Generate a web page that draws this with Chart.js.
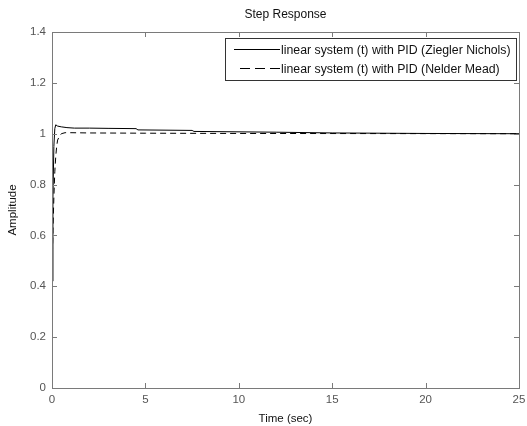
<!DOCTYPE html>
<html><head><meta charset="utf-8">
<script src="https://cdn.jsdelivr.net/npm/chart.js@4"></script>
<style>html,body{margin:0;padding:0;background:#fff}#wrap{width:527px;height:426px}</style>
</head><body><div id="wrap"><canvas id="c" width="527" height="426"></canvas></div>
<script>
const titleText = "Step Response";
const xLabel = "Time (sec)";
const yLabel = "Amplitude";
const seriesNames = ["linear system (t) with PID (Ziegler Nichols)", "linear system (t) with PID (Nelder Mead)"];
const tZN = [0, 0.05, 0.1, 0.15, 0.2, 0.3, 0.5, 0.8, 1.2, 2, 3, 4.5, 4.6, 7.5, 7.6, 12, 15, 20, 25];
const yZN = [0.42, 0.75, 0.95, 1.02, 1.035, 1.03, 1.027, 1.024, 1.022, 1.022, 1.021, 1.02, 1.015, 1.013, 1.009, 1.006, 1.003, 1.001, 1.0];
const tNM = [0, 0.05, 0.1, 0.15, 0.2, 0.25, 0.3, 0.4, 0.5, 0.7, 1, 2, 5, 10, 25];
const yNM = [0.45, 0.62, 0.75, 0.85, 0.91, 0.95, 0.975, 0.99, 1.0, 1.004, 1.004, 1.003, 1.002, 1.001, 1.0];
const xTicks = [0, 5, 10, 15, 20, 25];
const yTicks = [0, 0.2, 0.4, 0.6, 0.8, 1, 1.2, 1.4];

const axisColor = '#7a7a7a';
const textColor = '#555';
const FONT = '"Liberation Sans", Arial, sans-serif';

const frame = {
  id: 'frame',
  afterDatasetsDraw(chart) {
    const {ctx, chartArea: a, scales} = chart;
    ctx.save();
    ctx.font = '12px ' + FONT; ctx.fillStyle = '#111';
    ctx.textAlign = 'center'; ctx.textBaseline = 'middle';
    ctx.fillText(titleText, (a.left + a.right) / 2, 15);
    ctx.strokeStyle = axisColor; ctx.lineWidth = 1;
    ctx.strokeRect(a.left + 0.5, a.top + 0.5, a.right - a.left, a.bottom - a.top);
    ctx.beginPath();
    xTicks.forEach(v => { const x = Math.round(scales.x.getPixelForValue(v)) + 0.5;
      ctx.moveTo(x, a.bottom); ctx.lineTo(x, a.bottom - 5);
      ctx.moveTo(x, a.top); ctx.lineTo(x, a.top + 5); });
    yTicks.forEach(v => { const y = Math.round(scales.y.getPixelForValue(v)) + 0.5;
      ctx.moveTo(a.left, y); ctx.lineTo(a.left + 5, y);
      ctx.moveTo(a.right, y); ctx.lineTo(a.right - 5, y); });
    ctx.stroke();
    const bx = 225.5, by = 38.5, bw = 291, bh = 42;
    ctx.fillStyle = '#fff'; ctx.fillRect(bx, by, bw, bh);
    ctx.strokeStyle = '#333'; ctx.strokeRect(bx, by, bw, bh);
    ctx.font = '12.3px ' + FONT;
    ctx.fillStyle = '#111'; ctx.textBaseline = 'middle'; ctx.textAlign = 'left';
    const rows = [49.5, 68.5];
    const starts = [234, 240];
    chart.data.datasets.forEach((ds, i) => {
      ctx.strokeStyle = '#000'; ctx.lineWidth = 1;
      ctx.setLineDash(ds.borderDash ? [10, 5] : []);
      ctx.beginPath(); ctx.moveTo(starts[i], rows[i]); ctx.lineTo(280, rows[i]); ctx.stroke();
      ctx.setLineDash([]);
      ctx.fillText(ds.label, 281, rows[i] + 1);
    });
    ctx.restore();
  }
};

new Chart(document.getElementById('c'), {
  type: 'line',
  data: { datasets: [
    { label: seriesNames[0], data: tZN.map((t, i) => ({x: t, y: yZN[i]})), borderColor: '#000', borderWidth: 1, pointRadius: 0, tension: 0, fill: false },
    { label: seriesNames[1], data: tNM.map((t, i) => ({x: t, y: yNM[i]})), borderColor: '#000', borderWidth: 1, borderDash: [6, 4], pointRadius: 0, tension: 0, fill: false }
  ]},
  options: {
    responsive: false, animation: false, devicePixelRatio: 1,
    layout: { padding: { top: 32, right: 8, left: 6, bottom: 0 } },
    plugins: { legend: { display: false }, tooltip: { enabled: false }, title: { display: false } },
    scales: {
      x: { type: 'linear', min: 0, max: 25,
        afterBuildTicks: s => { s.ticks = xTicks.map(v => ({value: v})); },
        afterFit: s => { s.height = 38; s.paddingRight = 0; s.paddingLeft = 0; },
        grid: { display: false, drawTicks: false }, border: { display: false },
        ticks: { color: textColor, padding: 5, maxRotation: 0, font: { family: FONT, size: 11.5 } },
        title: { display: true, text: xLabel, color: '#111', padding: { top: 1, bottom: 0 }, font: { family: FONT, size: 11.5 } } },
      y: { min: 0, max: 1.4,
        afterBuildTicks: s => { s.ticks = yTicks.map(v => ({value: v})); },
        afterFit: s => { s.width = 46; s.paddingTop = 0; s.paddingBottom = 0; },
        grid: { display: false, drawTicks: false }, border: { display: false },
        ticks: { color: textColor, padding: 6, callback: v => String(Math.round(v * 10) / 10), font: { family: FONT, size: 11.5 } },
        title: { display: true, text: yLabel, color: '#111', padding: { top: 0, bottom: 4 }, font: { family: FONT, size: 11.5 } } }
    }
  },
  plugins: [frame]
});
</script></body></html>
